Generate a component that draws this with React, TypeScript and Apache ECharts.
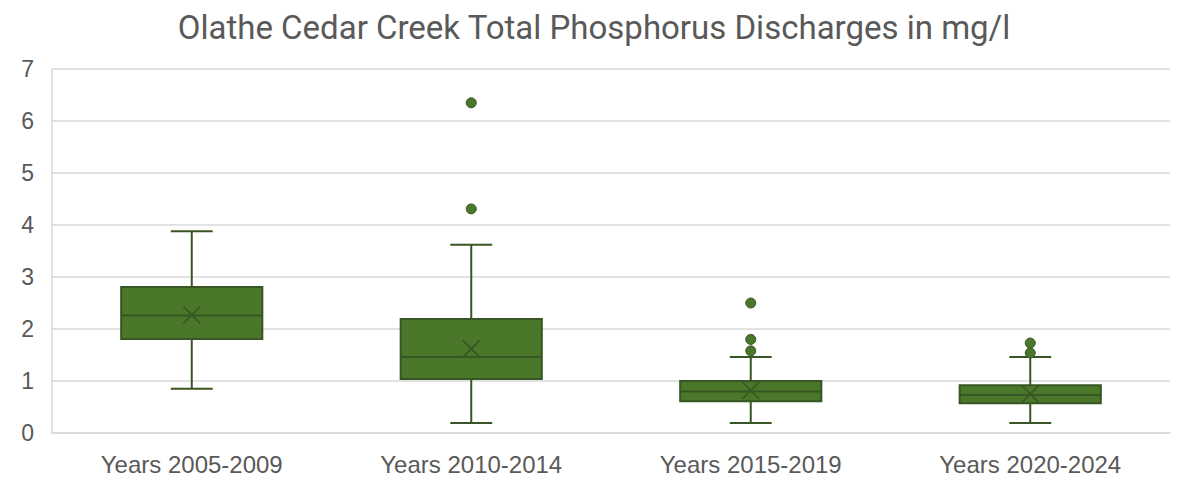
import React, { useEffect, useRef } from "react";
import * as echarts from "echarts";

const categories = ["Years 2005-2009", "Years 2010-2014", "Years 2015-2019", "Years 2020-2024"];
const whiskerLow = [0.85, 0.19, 0.19, 0.19];
const q1 = [1.81, 1.04, 0.61, 0.57];
const median = [2.26, 1.46, 0.8, 0.73];
const q3 = [2.81, 2.19, 1.0, 0.92];
const whiskerHigh = [3.88, 3.62, 1.46, 1.46];
const mean = [2.27, 1.62, 0.82, 0.75];
const outlierCategory = [1, 1, 2, 2, 2, 3, 3];
const outlierValue = [6.35, 4.31, 2.5, 1.8, 1.58, 1.73, 1.54];
const yTicks = [0, 1, 2, 3, 4, 5, 6, 7];

const FILL = "#4a7729";
const EDGE = "#375623";
const TEXT = "#595959";
const GRID = "#d9d9d9";

export default function App() {
  const ref = useRef<HTMLDivElement>(null);
  useEffect(() => {
    if (!ref.current) return;
    const chart = echarts.init(ref.current, null, { renderer: "svg" });
    const boxData = categories.map((_, i) => [i, whiskerLow[i], q1[i], median[i], q3[i], whiskerHigh[i], mean[i]]);
    const outData = outlierCategory.map((c, i) => [c, outlierValue[i]]);
    chart.setOption({
      animation: false,
      backgroundColor: "#ffffff",
      title: {
        text: "Olathe Cedar Creek Total Phosphorus Discharges in mg/l",
        left: "center",
        top: 6,
        textStyle: { fontFamily: "Roboto", fontSize: 33, fontWeight: "normal", color: TEXT },
      },
      grid: { left: 52, right: 18, top: 69, bottom: 48, containLabel: false },
      xAxis: {
        type: "category",
        data: categories,
        boundaryGap: true,
        axisLine: { show: true, lineStyle: { color: GRID, width: 1.5 } },
        axisTick: { show: false },
        axisLabel: { color: TEXT, fontFamily: "Liberation Sans", fontSize: 24, margin: 19 },
        splitLine: { show: false },
      },
      yAxis: {
        type: "value",
        min: yTicks[0],
        max: yTicks[yTicks.length - 1],
        interval: 1,
        axisLine: { show: true, lineStyle: { color: GRID, width: 1.5 } },
        axisTick: { show: false },
        axisLabel: { color: TEXT, fontFamily: "Liberation Sans", fontSize: 23, margin: 18 },
        splitLine: { show: true, lineStyle: { color: GRID, width: 1.5 } },
      },
      series: [
        {
          type: "custom",
          data: boxData,
          encode: { x: 0, y: [1, 2, 3, 4, 5, 6] },
          renderItem: (params: any, api: any) => {
            const idx = api.value(0);
            const bandW = api.size([1, 0])[0];
            const boxW = bandW * 0.505;
            const capW = bandW * 0.15;
            const pLow = api.coord([idx, api.value(1)]);
            const pQ1 = api.coord([idx, api.value(2)]);
            const pMed = api.coord([idx, api.value(3)]);
            const pQ3 = api.coord([idx, api.value(4)]);
            const pHigh = api.coord([idx, api.value(5)]);
            const pMean = api.coord([idx, api.value(6)]);
            const cx = pMed[0];
            const lineStyle = { stroke: EDGE, lineWidth: 2, fill: null };
            const xs = 8.5;
            return {
              type: "group",
              children: [
                { type: "line", shape: { x1: cx, y1: pHigh[1], x2: cx, y2: pQ3[1] }, style: lineStyle },
                { type: "line", shape: { x1: cx, y1: pLow[1], x2: cx, y2: pQ1[1] }, style: lineStyle },
                { type: "line", shape: { x1: cx - capW / 2, y1: pHigh[1], x2: cx + capW / 2, y2: pHigh[1] }, style: lineStyle },
                { type: "line", shape: { x1: cx - capW / 2, y1: pLow[1], x2: cx + capW / 2, y2: pLow[1] }, style: lineStyle },
                {
                  type: "rect",
                  shape: { x: cx - boxW / 2, y: pQ3[1], width: boxW, height: pQ1[1] - pQ3[1] },
                  style: { fill: FILL, stroke: EDGE, lineWidth: 2 },
                },
                { type: "line", shape: { x1: cx - boxW / 2, y1: pMed[1], x2: cx + boxW / 2, y2: pMed[1] }, style: lineStyle },
                { type: "line", shape: { x1: cx - xs, y1: pMean[1] - xs, x2: cx + xs, y2: pMean[1] + xs }, style: { stroke: EDGE, lineWidth: 2, opacity: 0.85 } },
                { type: "line", shape: { x1: cx - xs, y1: pMean[1] + xs, x2: cx + xs, y2: pMean[1] - xs }, style: { stroke: EDGE, lineWidth: 2, opacity: 0.85 } },
              ],
            };
          },
          z: 2,
        },
        {
          type: "scatter",
          data: outData,
          symbol: "circle",
          symbolSize: 10,
          itemStyle: { color: FILL, borderColor: EDGE, borderWidth: 1, opacity: 1 },
          z: 3,
        },
      ],
    });
    return () => chart.dispose();
  }, []);
  return <div ref={ref} style={{ position: "fixed", left: 0, top: 0, width: 1188, height: 481 }} />;
}
